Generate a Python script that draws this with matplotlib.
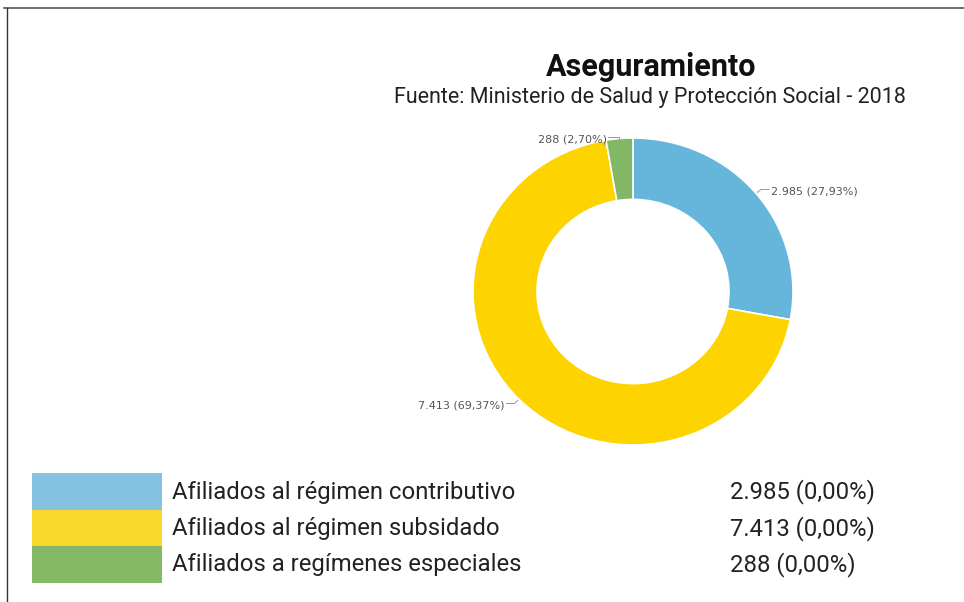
import numpy as np
import matplotlib.pyplot as plt
from matplotlib.lines import Line2D
from matplotlib.patches import Rectangle

plt.rcParams["font.family"] = ["Roboto", "DejaVu Sans"]

# data
categorias = [
    "Afiliados al régimen contributivo",
    "Afiliados al régimen subsidado",
    "Afiliados a regímenes especiales",
]
valores = [2985, 7413, 288]
etiquetas_valor = ["2.985", "7.413", "288"]
colores_dona = ["#66B5DB", "#FDD300", "#82B865"]
colores_leyenda = ["#85C2E2", "#F9D82E", "#84B865"]

W, H = 964, 602
fig = plt.figure(figsize=(W / 100, H / 100), dpi=100)
fig.patch.set_facecolor("white")

# frame lines (top + left)
fig.add_artist(Line2D([4 / W, 1], [1 - 8 / H, 1 - 8 / H], color="#555555", lw=1.2))
fig.add_artist(Line2D([7 / W, 7 / W], [0, 1 - 8 / H], color="#333333", lw=1.0))

# titles
fig.text(651 / W, 1 - 67 / H, "Aseguramiento", ha="center", va="center",
         fontsize=22, fontweight="bold", color="#111111")
fig.text(650 / W, 1 - 97 / H, "Fuente: Ministerio de Salud y Protección Social - 2018",
         ha="center", va="center", fontsize=15.5, color="#222222")

# donut
ax = fig.add_axes([473 / W, (H - 445) / H, 320 / W, 307 / H])
wedges, _ = ax.pie(valores, colors=colores_dona, startangle=90, counterclock=False,
                   radius=1, wedgeprops=dict(width=0.4, edgecolor="white", linewidth=1.2))
ax.set_xlim(-1, 1)
ax.set_ylim(-1, 1)
ax.set_aspect("auto")
ax.axis("off")

total = sum(valores)
for w, v, lab in zip(wedges, valores, etiquetas_valor):
    ang = np.deg2rad((w.theta1 + w.theta2) / 2)
    x0, y0 = np.cos(ang), np.sin(ang)
    pct = f"{v / total * 100:.2f}".replace(".", ",")
    side = 1 if x0 > 0 else -1
    if abs(y0) > 0.9:
        x1, y1 = x0 - 0.02, y0 + 0.01
        tx, ty = x1 - 0.06, y1
        xs, ys = [x0, x0, tx + 0.01], [y0, y1, ty]
    else:
        x1, y1 = 1.04 * x0, 1.04 * y0
        tx, ty = x1 + side * 0.06, y1
        xs, ys = [x0 * 1.01, x1, tx - side * 0.01], [y0 * 1.01, y1, ty]
    ax.plot(xs, ys, color="#999999", lw=0.7, clip_on=False)
    ax.text(tx, ty - 0.015, f"{lab} ({pct}%)", ha="left" if side > 0 else "right",
            va="center", fontsize=8, color="#555555", clip_on=False,
            family="DejaVu Sans")

# legend
for i, (cat, v, lab) in enumerate(zip(categorias, valores, etiquetas_valor)):
    top = 473 + i * 36.5
    fig.add_artist(Rectangle((32 / W, 1 - (top + 36.5) / H), 130 / W, 36.5 / H,
                             transform=fig.transFigure, facecolor=colores_leyenda[i],
                             edgecolor="none"))
    cy = 1 - (top + 19) / H
    fig.text(172 / W, cy, cat, ha="left", va="center", fontsize=17.2, color="#222222")
    fig.text(730 / W, cy, f"{lab} (0,00%)", ha="left", va="center", fontsize=17.2,
             color="#222222")

fig.savefig("out.png", dpi=100, facecolor="white")
